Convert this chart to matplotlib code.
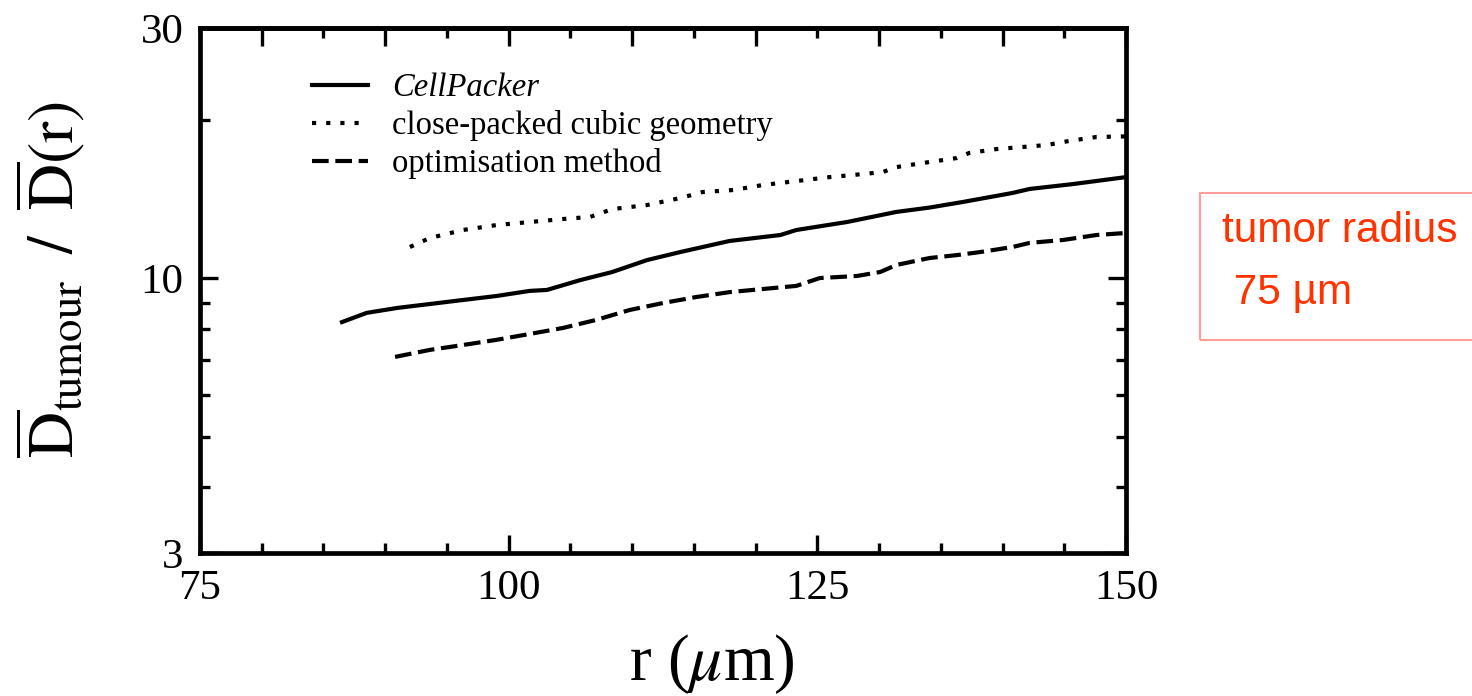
import matplotlib
matplotlib.use("Agg")
import matplotlib.pyplot as plt
from matplotlib.patches import Rectangle
from matplotlib.ticker import FixedLocator, NullFormatter, MultipleLocator

plt.rcParams['font.family'] = ['Liberation Serif', 'DejaVu Serif']
plt.rcParams['mathtext.fontset'] = 'stix'

# ---- data ----
r_cellpacker = [86.5, 88.5, 91.0, 93.6, 96.3, 99.0, 101.7, 103.1, 105.8, 108.4,
                111.2, 113.9, 117.9, 122.0, 123.3, 127.4, 131.4, 134.1, 136.8,
                140.8, 142.2, 145.7, 150.0]
d_cellpacker = [8.26, 8.60, 8.79, 8.94, 9.10, 9.26, 9.47, 9.51, 9.93, 10.29,
                10.84, 11.23, 11.79, 12.10, 12.37, 12.81, 13.39, 13.65, 13.99,
                14.55, 14.81, 15.13, 15.60]

r_cubic = [92.0, 93.6, 96.3, 99.0, 101.7, 104.4, 106.6, 108.4, 111.2, 113.9,
           115.7, 118.2, 120.6, 123.3, 126.0, 128.7, 130.3, 131.4, 134.1, 136.3,
           137.3, 139.5, 141.6, 143.6, 145.4, 147.6, 150.0]
d_cubic = [11.48, 11.94, 12.37, 12.64, 12.81, 12.98, 13.10, 13.56, 13.80, 14.23,
           14.61, 14.74, 15.07, 15.33, 15.60, 15.81, 15.95, 16.30, 16.67, 16.96,
           17.34, 17.64, 17.80, 17.96, 18.28, 18.60, 18.65]

r_optim = [90.8, 93.6, 96.3, 99.0, 101.7, 104.4, 107.1, 109.8, 112.5, 115.2,
           117.9, 120.6, 123.3, 125.2, 128.2, 130.1, 131.4, 134.1, 136.3, 138.2,
           140.8, 142.2, 144.9, 147.6, 150.0]
d_optim = [7.09, 7.31, 7.47, 7.64, 7.84, 8.05, 8.34, 8.71, 8.98, 9.22,
           9.42, 9.55, 9.68, 10.02, 10.11, 10.29, 10.61, 10.94, 11.08, 11.23,
           11.48, 11.69, 11.84, 12.10, 12.21]

series_labels = ['CellPacker', 'close-packed cubic geometry', 'optimisation method']
x_major = [75, 100, 125, 150]
y_major = [3, 10, 30]
y_major_labels = ['3', '10', '30']
y_minor = [4, 5, 6, 7, 8, 9, 20]
note_lines = ['tumor radius', ' 75 µm']

# ---- figure ----
fig = plt.figure(figsize=(14.72, 6.96), dpi=100)
ax = fig.add_axes([200 / 1472, 1 - 553 / 696, 926 / 1472, 525 / 696])

lw = 3.0
ax.plot(r_cellpacker, d_cellpacker, color='black', lw=lw, ls='-',
        label=series_labels[0])
ax.plot(r_cubic, d_cubic, color='black', lw=lw, ls=(0, (1, 2.4)),
        dash_capstyle='butt', label=series_labels[1])
ax.plot(r_optim, d_optim, color='black', lw=lw, ls=(0, (4.0, 1.6)),
        dash_capstyle='butt', label=series_labels[2])

ax.set_yscale('log')
ax.set_xlim(75, 150)
ax.set_ylim(3, 30)

ax.yaxis.set_major_locator(FixedLocator(y_major))
ax.set_yticklabels(y_major_labels)
ax.yaxis.set_minor_locator(FixedLocator(y_minor))
ax.yaxis.set_minor_formatter(NullFormatter())
ax.xaxis.set_major_locator(FixedLocator(x_major))
ax.xaxis.set_minor_locator(MultipleLocator(5))

ax.tick_params(which='both', direction='in', width=2.4, labelsize=31,
               left=True, right=True, bottom=True, top=False)
ax.tick_params(which='major', length=13, pad=12)
ax.tick_params(which='minor', length=7)

top = ax.secondary_xaxis('top')
top.xaxis.set_major_locator(MultipleLocator(10))
top.xaxis.set_minor_locator(MultipleLocator(5))
top.tick_params(which='both', direction='in', width=2.4, labeltop=False)
top.tick_params(which='major', length=13)
top.tick_params(which='minor', length=7)
top.spines['top'].set_linewidth(3.4)

for s in ax.spines.values():
    s.set_linewidth(3.4)

ax.set_xlabel(r'r ($\mu$m)', fontsize=47)
ax.xaxis.set_label_coords(512 / 926, -0.15)
ax.set_ylabel(r'$\overline{\mathrm{D}}_{\mathrm{tumour}}\;\;/\;\;\overline{\mathrm{D}}(\mathrm{r})$',
              fontsize=46)
ax.yaxis.set_label_coords(-0.122, 0.52)

leg = ax.legend(loc='upper left', bbox_to_anchor=(0.107, 0.94), frameon=False,
                fontsize=23.5, handlelength=1.7, handletextpad=0.75,
                labelspacing=0.22, borderaxespad=0)
leg.get_texts()[0].set_fontstyle('italic')

# ---- right-hand annotation box ----
fig.patches.append(Rectangle((1200 / 1472, 1 - 340 / 696), 290 / 1472, 147 / 696,
                             transform=fig.transFigure, fill=False,
                             edgecolor='#ff9c9c', linewidth=1.5))
fig.text(1222 / 1472, 1 - 231 / 696, note_lines[0], color='#ff3300', fontsize=30.5,
         family='Liberation Sans', va='center', ha='left')
fig.text(1222 / 1472, 1 - 293 / 696, note_lines[1], color='#ff3300', fontsize=30.5,
         family='Liberation Sans', va='center', ha='left')

fig.savefig('out.png', dpi=100)
